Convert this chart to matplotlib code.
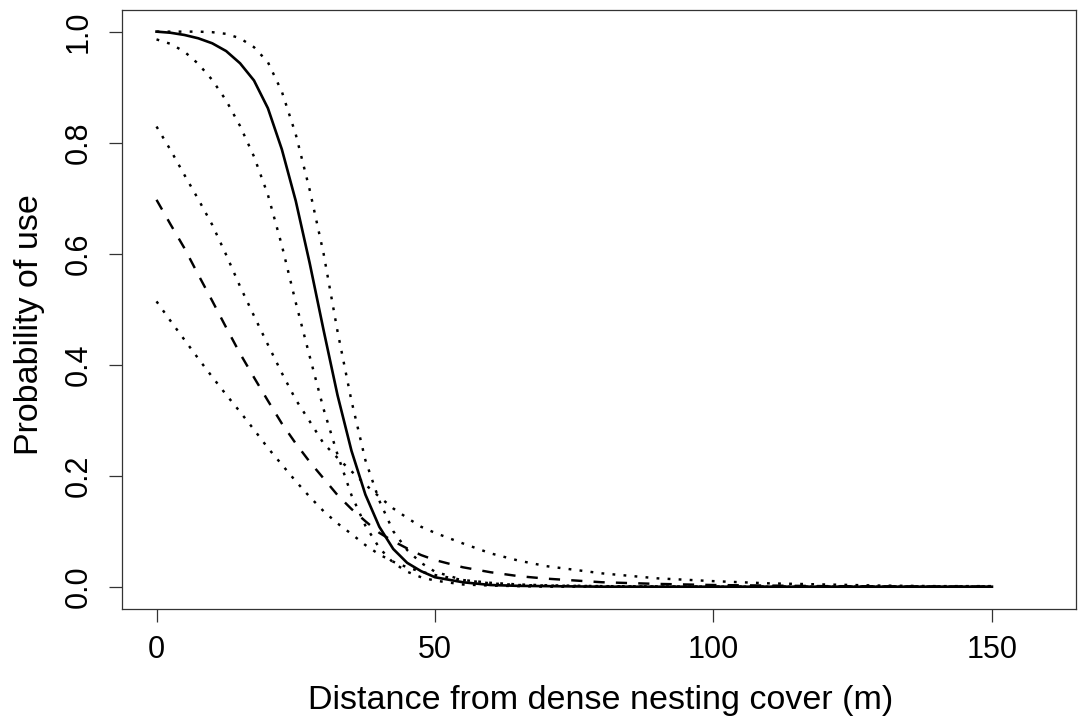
import numpy as np
import matplotlib.pyplot as plt

# values
distance = [0, 2.5, 5, 7.5, 10, 12.5, 15, 17.5, 20, 22.5, 25, 27.5, 30, 32.5, 35,
            37.5, 40, 42.5, 45, 47.5, 50, 55, 60, 65, 70, 80, 90, 100, 110, 120,
            130, 140, 150]

# steep model (solid) with its confidence band (dotted)
steep_fit = [1.0, 0.998, 0.994, 0.988, 0.979, 0.965, 0.943, 0.912, 0.862, 0.788,
             0.695, 0.583, 0.462, 0.345, 0.245, 0.166, 0.108, 0.068, 0.043, 0.028,
             0.017, 0.008, 0.003, 0.0015, 0.001, 0.0, 0.0, 0.0, 0.0, 0.0, 0.0, 0.0, 0.0]
steep_upper = [1.0, 1.0, 1.0, 1.0, 0.999, 0.996, 0.988, 0.972, 0.945, 0.892,
               0.815, 0.715, 0.60, 0.46, 0.335, 0.228, 0.155, 0.10, 0.066, 0.043,
               0.027, 0.012, 0.006, 0.003, 0.002, 0.001, 0.0, 0.0, 0.0, 0.0, 0.0, 0.0, 0.0]
steep_lower = [0.986, 0.978, 0.964, 0.942, 0.913, 0.876, 0.83, 0.775, 0.706, 0.615,
               0.512, 0.415, 0.32, 0.238, 0.165, 0.11, 0.07, 0.043, 0.027, 0.017,
               0.011, 0.004, 0.002, 0.001, 0.0, 0.0, 0.0, 0.0, 0.0, 0.0, 0.0, 0.0, 0.0]

# shallow model (dashed) with its confidence band (dotted)
shallow_fit = [0.697, 0.653, 0.61, 0.562, 0.515, 0.467, 0.42, 0.377, 0.335, 0.294,
               0.258, 0.225, 0.195, 0.165, 0.14, 0.118, 0.097, 0.082, 0.069, 0.057,
               0.048, 0.035, 0.026, 0.019, 0.0145, 0.008, 0.005, 0.003, 0.002, 0.001,
               0.0007, 0.0004, 0.0002]
shallow_upper = [0.829, 0.787, 0.742, 0.698, 0.652, 0.598, 0.541, 0.488, 0.436, 0.385,
                 0.337, 0.298, 0.258, 0.232, 0.208, 0.184, 0.162, 0.141, 0.124, 0.108,
                 0.097, 0.078, 0.060, 0.047, 0.037, 0.024, 0.015, 0.010, 0.006, 0.004,
                 0.002, 0.001, 0.001]
shallow_lower = [0.514, 0.479, 0.445, 0.411, 0.378, 0.346, 0.315, 0.283, 0.25, 0.22,
                 0.19, 0.162, 0.136, 0.114, 0.095, 0.075, 0.058, 0.045, 0.035, 0.027,
                 0.021, 0.012, 0.007, 0.004, 0.0025, 0.001, 0.0005, 0.0, 0.0, 0.0,
                 0.0, 0.0, 0.0]

x_ticks = [0, 50, 100, 150]
y_ticks = [0.0, 0.2, 0.4, 0.6, 0.8, 1.0]

plt.rcParams['font.family'] = ['Liberation Sans', 'DejaVu Sans']

fig = plt.figure(figsize=(10.78, 7.22), dpi=100)
ax = fig.add_axes([0.1129, 0.1565, 0.8853, 0.8296])

dotted = (0, (1.15, 3.4))
dashed = (0, (4.6, 4.6))
lw = 1.75

ax.plot(distance, steep_fit, color='black', linewidth=1.9, linestyle='-')
ax.plot(distance, steep_upper, color='black', linewidth=lw, linestyle=dotted)
ax.plot(distance, steep_lower, color='black', linewidth=lw, linestyle=dotted)
ax.plot(distance, shallow_fit, color='black', linewidth=lw, linestyle=dashed)
ax.plot(distance, shallow_upper, color='black', linewidth=lw, linestyle=dotted)
ax.plot(distance, shallow_lower, color='black', linewidth=lw, linestyle=dotted)

ax.set_xlim(-6.25, 165.1)
ax.set_ylim(-0.0402, 1.0389)
ax.set_xticks(x_ticks)
ax.set_xticklabels([str(t) for t in x_ticks])
ax.set_yticks(y_ticks)
ax.set_yticklabels(['%.1f' % t for t in y_ticks], rotation=90, va='center')

ax.tick_params(axis='both', length=9.4, width=0.9, color='#333333', labelsize=22)
ax.tick_params(axis='x', pad=9)
ax.tick_params(axis='y', pad=11)
for sp in ax.spines.values():
    sp.set_linewidth(0.9)
    sp.set_color('#333333')

ax.set_xlabel('Distance from dense nesting cover (m)', fontsize=24.5)
ax.set_ylabel('Probability of use', fontsize=24.5)
ax.xaxis.set_label_coords(0.502, -0.152)
ax.xaxis.label.set_va('center')
ax.yaxis.set_label_coords(-0.0964, 0.475)
ax.yaxis.label.set_va('center')

fig.savefig('out.png', dpi=100)
